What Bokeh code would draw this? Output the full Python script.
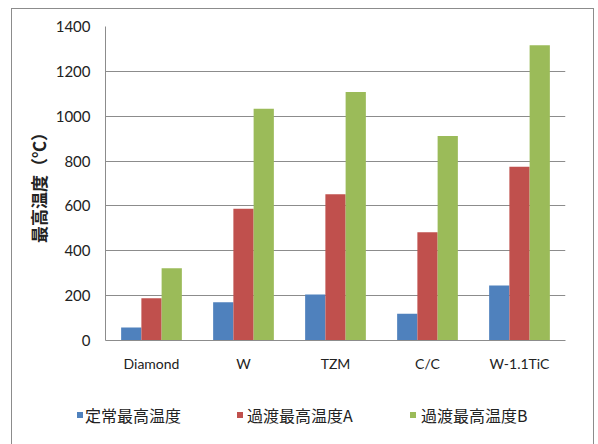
from bokeh.plotting import figure
from bokeh.layouts import column
from bokeh.models import ColumnDataSource, FactorRange, Range1d, Div
from bokeh.transform import dodge
from bokeh.embed import file_html
from bokeh.resources import INLINE

materials = ["Diamond", "W", "TZM", "C/C", "W-1.1TiC"]
steady_max = [58, 170, 205, 119, 245]
transient_max_a = [188, 587, 652, 483, 775]
transient_max_b = [322, 1033, 1108, 912, 1316]
series_names = ["定常最高温度", "過渡最高温度A", "過渡最高温度B"]
y_ticks = [0, 200, 400, 600, 800, 1000, 1200, 1400]

src = ColumnDataSource(dict(mat=materials, s=steady_max, a=transient_max_a, b=transient_max_b))

LATIN = "Lato"
CJK = "Noto Sans CJK JP"
GRID = "#8c8c8c"
TEXT = "#222222"
colors = ["#4F81BD", "#C0504D", "#9BBB59"]
offsets = [-0.22, 0.0, 0.22]

# --- bar chart ---
p = figure(width=581, height=375, x_range=FactorRange(*materials, range_padding=0),
           y_range=Range1d(0, 1400), output_backend="svg", toolbar_location=None,
           min_border_left=93, min_border_right=28, min_border_top=17, min_border_bottom=44)
p.outline_line_color = None
p.background_fill_color = "white"
p.border_fill_color = "white"

for col, off, c in zip(["s", "a", "b"], offsets, colors):
    p.vbar(x=dodge("mat", off, range=p.x_range), top=col, width=0.22, source=src,
           fill_color=c, line_color=None)

p.yaxis.ticker = y_ticks
p.yaxis.axis_label = "最高温度（℃）"
p.yaxis.axis_label_text_font = CJK
p.yaxis.axis_label_text_font_style = "bold"
p.yaxis.axis_label_text_font_size = "17px"
p.yaxis.axis_label_text_color = TEXT
p.yaxis.axis_label_standoff = 2
for ax in (p.xaxis[0], p.yaxis[0]):
    ax.axis_line_color = GRID
    ax.major_tick_line_color = None
    ax.minor_tick_line_color = None
    ax.major_label_text_font = LATIN
    ax.major_label_text_color = TEXT
p.xaxis.major_label_text_font_size = "14px"
p.yaxis.major_label_text_font_size = "15px"
p.yaxis.major_label_standoff = 9
p.xaxis.major_label_standoff = 8

p.xgrid.grid_line_color = None
p.ygrid.grid_line_color = GRID
p.ygrid.grid_line_width = 1

# --- legend strip under the chart: colour swatch + series name per item ---
swatch_left = [65, 225, 398]
label_left = [73, 235, 409]
parts = []
for name, c, sx, lx in zip(series_names, colors, swatch_left, label_left):
    parts.append(f'<span style="position:absolute;left:{sx}px;top:28px;width:6px;height:6px;'
                 f'background:{c};"></span>')
    parts.append(f'<span style="position:absolute;left:{lx}px;top:20px;line-height:22px;'
                 f'white-space:nowrap;">{name}</span>')
legend_html = (f'<div style="position:relative;width:581px;height:60px;'
               f'font-family:\'{CJK}\';font-size:16px;color:{TEXT};">' + "".join(parts) + '</div>')
legend = Div(text=legend_html, width=581, height=60, margin=0)

# chart border around both parts, drawn as a CSS outline
layout = column(p, legend, spacing=0)
layout.margin = (9, 0, 0, 12)
layout.styles = {"outline": "1px solid #8c8c8c", "background": "white"}

open("out.html", "w").write(file_html(layout, INLINE))
